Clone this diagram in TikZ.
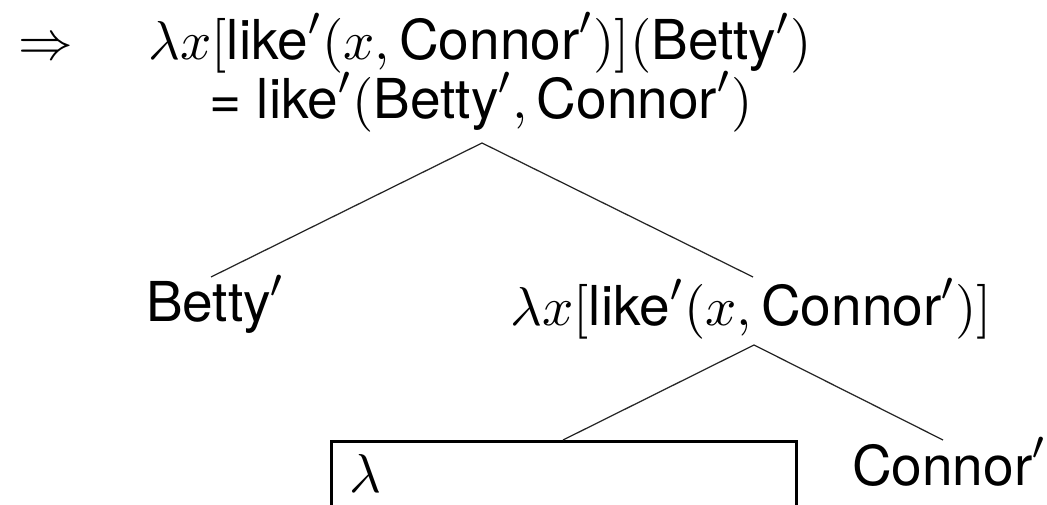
\documentclass[tikz,border=0pt]{standalone}
\usepackage{amsmath}
\usepackage[no-math]{fontspec}
\setmainfont{TeX Gyre Heros}
\tikzset{
  lbl/.style={inner sep=0pt, outer sep=0pt, font=\fontsize{11}{13}\selectfont},
  edge/.style={line width=0.25pt, draw=black!85},
  boxed/.style={draw, line width=0.6pt, inner sep=0pt, outer sep=0pt},
}
\begin{document}
\begin{tikzpicture}[x=0.2pt, y=-0.2pt]
\useasboundingbox (0,0) rectangle (1047,504);
\clip (0,0) rectangle (1047,504);
% labels
\node[lbl, anchor=base west] (arrow) at (18,60) {$\Rightarrow$};
\node[lbl, anchor=base] (top) at (480,60) {$\lambda x[\text{like}'(x,\text{Connor}')](\text{Betty}')$};
\node[lbl, anchor=base] (top2) at (481,119) {= $\text{like}'(\text{Betty}',\text{Connor}')$};
\node[lbl, anchor=base west] (betty) at (146,322) {$\text{Betty}'$};
\node[lbl, anchor=base east] (pred) at (992,326) {$\lambda x[\text{like}'(x,\text{Connor}')]$};
\node[lbl, anchor=base west] (connor) at (852,485) {$\text{Connor}'$};
\node[boxed, anchor=north west, minimum width=93pt, minimum height=24pt] (box) at (331,441) {};
\node[lbl, anchor=base west] (lam) at (349,492) {$\lambda$};
% tree joints
\coordinate (a1) at (482,143);
\coordinate (b1) at (211,277);
\coordinate (c1) at (753,277);
\coordinate (a2) at (754,345);
\coordinate (d2) at (563,440);
\coordinate (e2) at (943,440);
\draw[edge] (b1) -- (a1) -- (c1);
\draw[edge] (d2) -- (a2) -- (e2);
\end{tikzpicture}
\end{document}
